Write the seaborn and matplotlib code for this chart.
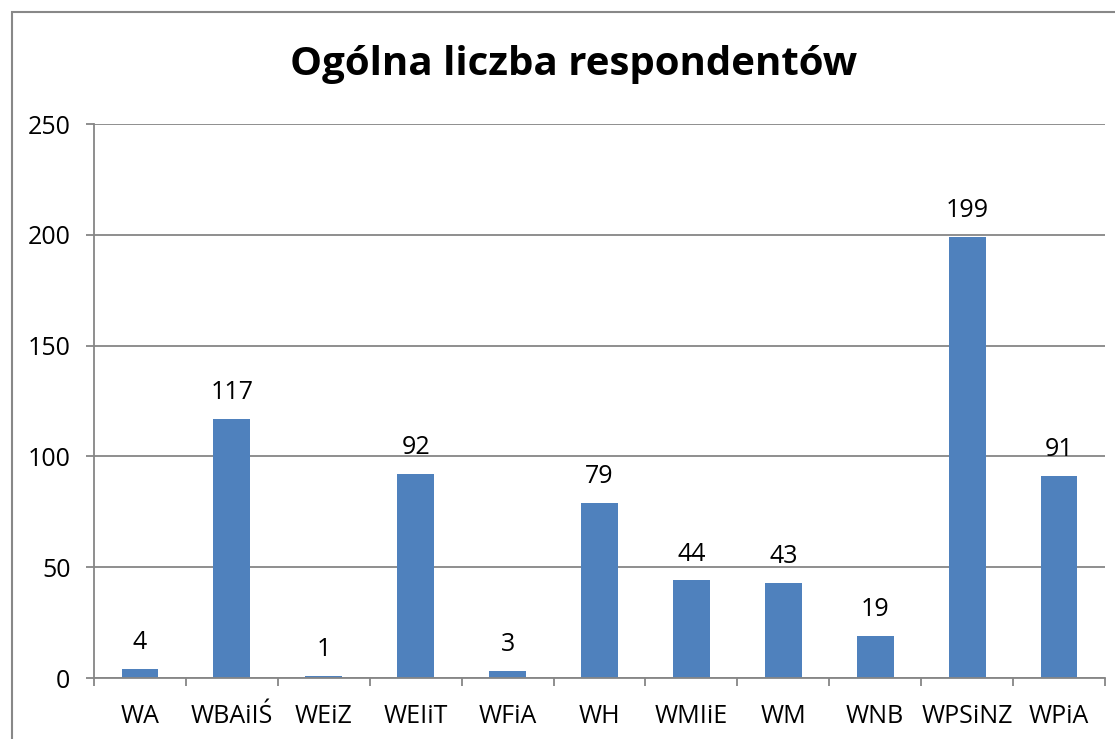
"""
Ogólna liczba respondentów - wykres słupkowy
"""
import matplotlib
matplotlib.use('Agg')
import matplotlib.pyplot as plt
import matplotlib.patches as patches
from matplotlib.ticker import FixedLocator
import seaborn as sns

wydzialy = ['WA', 'WBAiIŚ', 'WEiZ', 'WEIiT', 'WFiA', 'WH', 'WMIiE', 'WM', 'WNB', 'WPSiNZ', 'WPiA']
respondenci = [4, 117, 1, 92, 3, 79, 44, 43, 19, 199, 91]
y_ticks = [0, 50, 100, 150, 200, 250]

sns.set_theme(style='white')
plt.rcParams['font.family'] = ['Open Sans', 'DejaVu Sans']

fig = plt.figure(figsize=(11.15, 7.39), dpi=100)
ax = fig.add_axes([94 / 1115, 1 - 678 / 739, (1105 - 94) / 1115, (678 - 124) / 739])

sns.barplot(x=wydzialy, y=respondenci, color='#4F81BD', saturation=1, width=0.4,
            linewidth=0, ax=ax)

ax.set_ylim(0, 250)
ax.set_xlim(-0.5, len(wydzialy) - 0.5)
ax.set_yticks(y_ticks)
ax.yaxis.grid(True, color='#868686', linewidth=1.3)
ax.set_axisbelow(True)

for s in ['top', 'right']:
    ax.spines[s].set_visible(False)
for s in ['left', 'bottom']:
    ax.spines[s].set_color('#868686')
    ax.spines[s].set_linewidth(1.3)

# znaczniki osi X na granicach kategorii
ax.xaxis.set_minor_locator(FixedLocator([i - 0.5 for i in range(len(wydzialy) + 1)]))
ax.tick_params(axis='x', which='minor', bottom=True, length=6, width=1.3, color='#868686')
ax.tick_params(axis='x', which='major', bottom=False, labelsize=18, pad=13, labelcolor='black')
ax.tick_params(axis='y', left=True, length=6, width=1.3, color='#868686', labelsize=18, pad=11,
               labelcolor='black')
ax.set_xlabel('')
ax.set_ylabel('')

for i, v in enumerate(respondenci):
    ax.annotate(str(v), (i, v), xytext=(0, 10), textcoords='offset points',
                ha='center', va='bottom', fontsize=18, color='black')

fig.text(574 / 1115, 1 - 65 / 739, 'Ogólna liczba respondentów', ha='center', va='center',
         fontsize=29, fontweight='bold', color='black')

# ramka wykresu
fig.patches.append(patches.Rectangle((12 / 1115, -0.2), 1.2, 1.2 - 12 / 739,
                                     transform=fig.transFigure, fill=False,
                                     edgecolor='#888888', linewidth=1.5))

fig.savefig('out.png', dpi=100)
